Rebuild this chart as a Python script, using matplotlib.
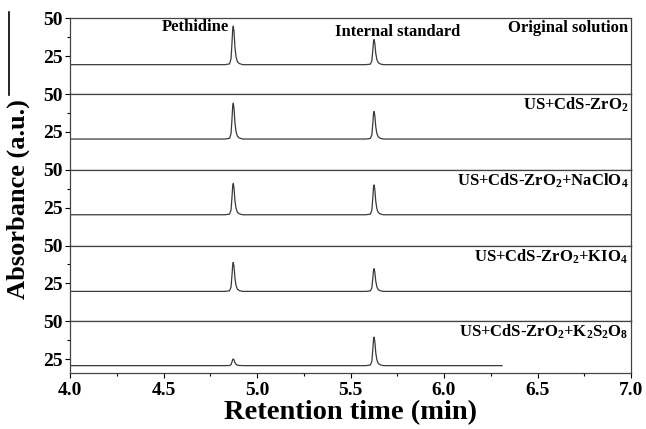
import numpy as np
import matplotlib
matplotlib.use('Agg')
import matplotlib.pyplot as plt
from matplotlib.lines import Line2D
from matplotlib.ticker import FixedLocator, MultipleLocator, FormatStrFormatter

plt.rcParams['font.family'] = 'Liberation Serif'
plt.rcParams['font.weight'] = 'bold'
plt.rcParams['mathtext.fontset'] = 'custom'
plt.rcParams['mathtext.rm'] = 'Liberation Serif:bold'
plt.rcParams['mathtext.it'] = 'Liberation Serif:bold'
plt.rcParams['mathtext.bf'] = 'Liberation Serif:bold'

" DATA "

samples = ['Original solution', 'US+CdS-ZrO$_2$', 'US+CdS-ZrO$_2$+NaClO$_4$',
           'US+CdS-ZrO$_2$+KIO$_4$', 'US+CdS-ZrO$_2$+K$_2$S$_2$O$_8$']
baseline = [19.3, 20.2, 20.2, 19.6, 20.6]
peth_top = [44.9, 44.0, 41.0, 38.9, 25.0]   # pethidine peak apex
istd_top = [36.0, 38.5, 40.0, 34.7, 39.5]   # internal standard apex
t_peth = 4.873
t_istd = 5.626
t_end = [7.0, 7.0, 7.0, 7.0, 6.31]

# peak shape: offset (min) vs fraction of height
prof_dt = [-0.045, -0.02, -0.012, -0.007, -0.003, 0.0, 0.004, 0.009, 0.015, 0.022, 0.032, 0.05]
prof_fr = [0.0, 0.02, 0.15, 0.55, 0.92, 1.0, 0.85, 0.45, 0.2, 0.08, 0.03, 0.0]


def trace(i):
    t = [4.0] + [t_peth + d for d in prof_dt] + [t_istd + d for d in prof_dt] + [t_end[i]]
    y = ([baseline[i]]
         + [baseline[i] + f * (peth_top[i] - baseline[i]) for f in prof_fr]
         + [baseline[i] + f * (istd_top[i] - baseline[i]) for f in prof_fr]
         + [baseline[i]])
    return t, y


fig, axes = plt.subplots(5, 1, figsize=(6.46, 4.29), dpi=100, sharex=True,
                         gridspec_kw={'height_ratios': [75.5, 75.5, 75.5, 75.5, 51.5], 'hspace': 0})
fig.subplots_adjust(left=0.1084, right=0.9768, top=0.957, bottom=0.1305)

for i, ax in enumerate(axes):
    t, y = trace(i)
    ax.plot(t, y, color='#3a3a3a', lw=0.9)
    ax.set_ylim(15.7 if i == 4 else -0.3, 50)
    ax.yaxis.set_major_locator(FixedLocator([25, 50]))
    ax.yaxis.set_minor_locator(FixedLocator([37.5]))
    ax.tick_params(axis='y', which='major', length=3.5, width=0.8, labelsize=14, pad=2)
    ax.tick_params(axis='y', which='minor', length=2, width=0.8)
    for s in ax.spines.values():
        s.set_color('#444444')
        s.set_linewidth(0.9)
    ax.text(6.985, 49, samples[i], ha='right', va='top', fontsize=12, fontweight='bold')
    if i < 4:
        ax.tick_params(axis='x', which='both', length=0)

ax = axes[-1]
ax.set_xlim(4.0, 7.0)
ax.xaxis.set_major_locator(MultipleLocator(0.5))
ax.xaxis.set_minor_locator(MultipleLocator(0.25))
ax.tick_params(axis='x', which='major', length=3.5, width=0.8, labelsize=14, pad=3)
ax.tick_params(axis='x', which='minor', length=2, width=0.8)
ax.xaxis.set_major_formatter(FormatStrFormatter('%.1f'))
ax.set_xlabel('Retention time (min)', fontsize=20.5, fontweight='bold', labelpad=1)

axes[0].text(4.67, 44, 'Pethidine', ha='center', va='center', fontsize=12, fontweight='bold')
axes[0].text(5.75, 41.3, 'Internal standard', ha='center', va='center', fontsize=12, fontweight='bold')

fig.text(0.028, 0.536, 'Absorbance (a.u.)', rotation=90, ha='center', va='center',
         fontsize=19, fontweight='bold')
fig.add_artist(Line2D([0.014, 0.014], [1 - 12 / 429, 1 - 95 / 429], color='black', lw=1.2))

plt.savefig('out.png', dpi=100)
